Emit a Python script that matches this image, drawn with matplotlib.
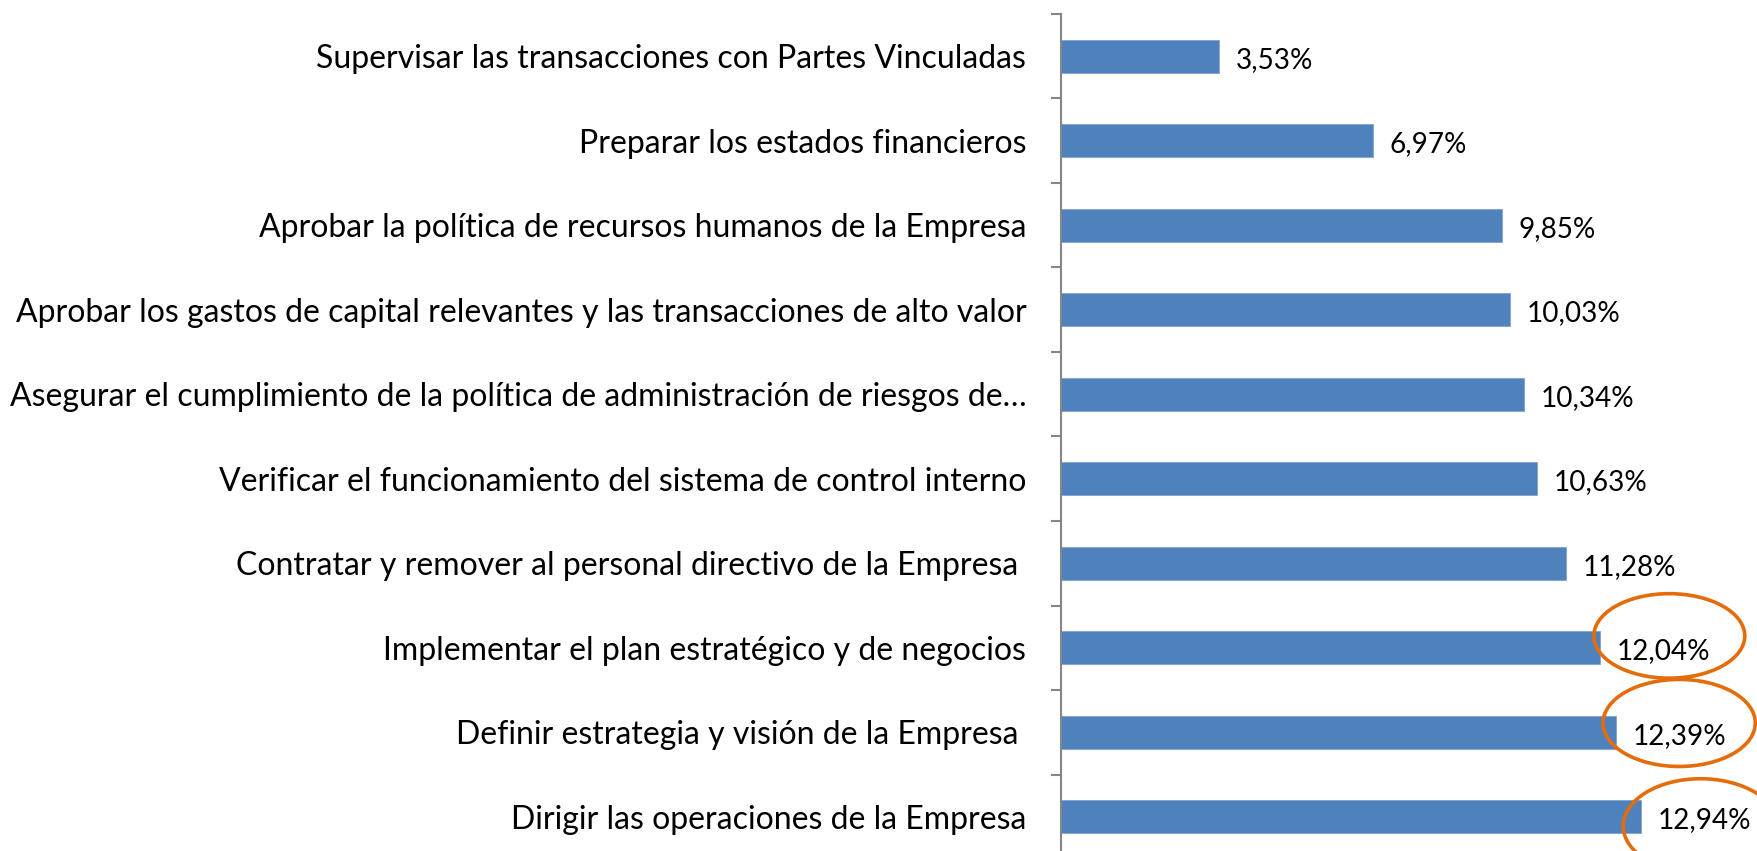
import matplotlib
matplotlib.use("Agg")
import matplotlib.pyplot as plt
from matplotlib.patches import Ellipse
import numpy as np

# data, top to bottom as in the original
categories = [
    "Supervisar las transacciones con Partes Vinculadas",
    "Preparar los estados financieros",
    "Aprobar la política de recursos humanos de la Empresa",
    "Aprobar los gastos de capital relevantes y las transacciones de alto valor",
    "Asegurar el cumplimiento de la política de administración de riesgos de…",
    "Verificar el funcionamiento del sistema de control interno",
    "Contratar y remover al personal directivo de la Empresa ",
    "Implementar el plan estratégico y de negocios",
    "Definir estrategia y visión de la Empresa ",
    "Dirigir las operaciones de la Empresa",
]
values = [3.53, 6.97, 9.85, 10.03, 10.34, 10.63, 11.28, 12.04, 12.39, 12.94]
value_labels = ["3,53%", "6,97%", "9,85%", "10,03%", "10,34%",
                "10,63%", "11,28%", "12,04%", "12,39%", "12,94%"]
highlighted = [7, 8, 9]   # the three circled at the bottom

FONT = ["Lato", "DejaVu Sans"]
BLUE = "#4F81BD"
GREY = "#868686"
ORANGE = "#E46C0A"

W, H = 1758, 851
fig = plt.figure(figsize=(W / 100, H / 100), dpi=100)

# pick font sizes so the text is about as wide as in the original
renderer = fig.canvas.get_renderer()
def fit_size(txt, target):
    probe = fig.text(0, 0, txt, fontsize=20, family=FONT)
    w = probe.get_window_extent(renderer).width
    probe.remove()
    return 20 * target / w

fs = fit_size(categories[3], 1013)
fs_val = fit_size(value_labels[0], 77)

# axes run a bit below the bottom edge, as the original is cut there
ax = fig.add_axes([1061 / W, (H - 859) / H, (W - 1061) / W, 845 / H])
ypos = np.arange(len(categories))
ax.barh(ypos, values, height=0.39, color=BLUE, edgecolor="#7FA3D1", linewidth=0.6)
ax.set_ylim(len(categories) - 0.5, -0.5)
ax.set_xlim(0, 15.56)

for s in ["top", "right", "bottom"]:
    ax.spines[s].set_visible(False)
ax.spines["left"].set_color(GREY)
ax.spines["left"].set_linewidth(1.5)

ax.set_xticks([])
ax.set_yticks(ypos, categories, fontsize=fs, family=FONT)
ax.set_yticks(np.arange(len(categories) + 1) - 0.5, minor=True)
ax.tick_params(axis="y", which="major", length=0, pad=25)
ax.tick_params(axis="y", which="minor", length=7.5, width=1.5, color=GREY, direction="out")

for i, (v, lbl) in enumerate(zip(values, value_labels)):
    ax.annotate(lbl, (v, ypos[i]), xytext=(12, -2.5), textcoords="offset points",
                va="center", ha="left", fontsize=fs_val, family=FONT, color="black")

# orange circles around the top three values
shifts = {7: (1.54, -0.14, 3.37, 1.0), 8: (1.41, -0.11, 3.40, 1.03), 9: (1.34, 0.11, 3.46, 1.12)}
for i in highlighted:
    dx, dy, ew, eh = shifts[i]
    ax.add_patch(Ellipse((values[i] + dx, ypos[i] + dy), ew, eh, fill=False,
                         edgecolor=ORANGE, linewidth=2.6, clip_on=False))

fig.savefig("out.png", dpi=100)
